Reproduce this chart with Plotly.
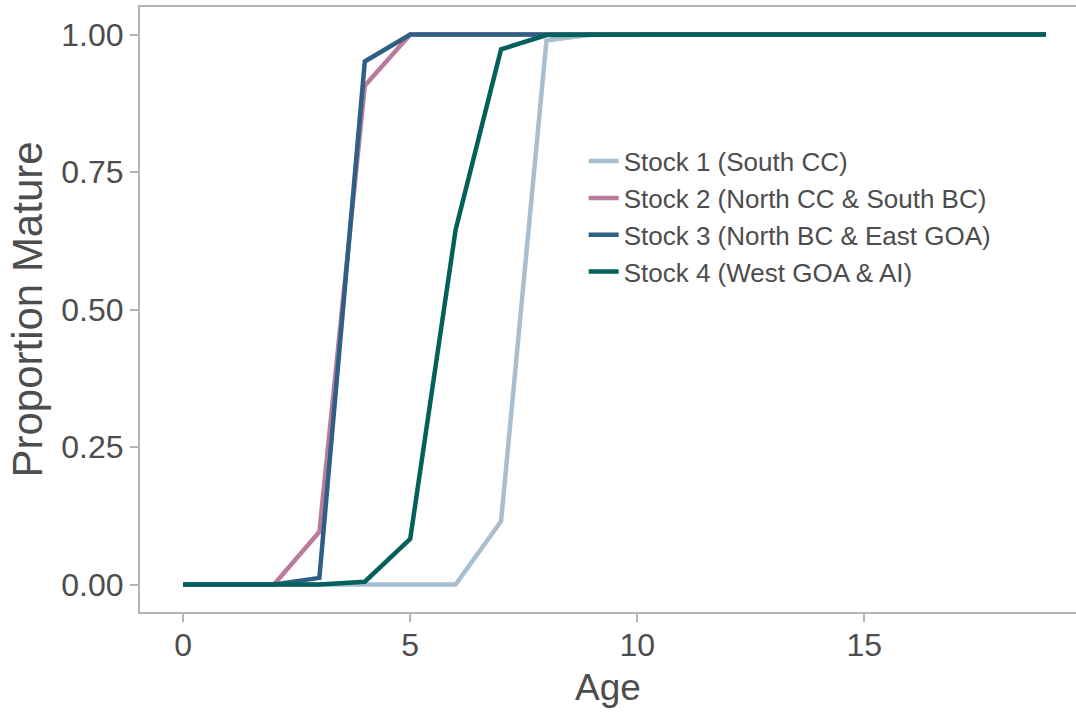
import plotly.graph_objects as go

ages = list(range(0, 20))

stock1 = [0, 0, 0, 0, 0, 0, 0, 0.115, 0.989, 1, 1, 1, 1, 1, 1, 1, 1, 1, 1, 1]
stock2 = [0, 0, 0, 0.096, 0.907, 1, 1, 1, 1, 1, 1, 1, 1, 1, 1, 1, 1, 1, 1, 1]
stock3 = [0, 0, 0, 0.012, 0.951, 1, 1, 1, 1, 1, 1, 1, 1, 1, 1, 1, 1, 1, 1, 1]
stock4 = [0, 0, 0, 0, 0.005, 0.083, 0.645, 0.973, 0.999, 1, 1, 1, 1, 1, 1, 1, 1, 1, 1, 1]

series_names = [
    "Stock 1 (South CC)",
    "Stock 2 (North CC & South BC)",
    "Stock 3 (North BC & East GOA)",
    "Stock 4 (West GOA & AI)",
]
series_values = [stock1, stock2, stock3, stock4]
series_colors = ["#a8bed1", "#bb7c9b", "#2e5f87", "#03605a"]

x_ticks = [0, 5, 10, 15]
x_tick_labels = ["0", "5", "10", "15"]
y_ticks = [0, 0.25, 0.5, 0.75, 1.0]
y_tick_labels = ["0.00", "0.25", "0.50", "0.75", "1.00"]

fig = go.Figure()
for name, vals, col in zip(series_names, series_values, series_colors):
    fig.add_trace(go.Scatter(x=ages, y=vals, mode="lines", name=name,
                             line=dict(color=col, width=4.5)))

text_col = "#4d4d4d"
axis_col = "#b5b5b5"

fig.update_layout(
    width=1076, height=715,
    margin=dict(l=140, r=0, t=7, b=103),
    paper_bgcolor="white", plot_bgcolor="white",
    font=dict(family="Liberation Sans, Arial, sans-serif", color=text_col),
    legend=dict(x=0.474, y=0.784, xanchor="left", yanchor="top",
                font=dict(size=26, color=text_col), bgcolor="rgba(0,0,0,0)",
                tracegroupgap=0),
    xaxis=dict(range=[-0.95, 19.66], tickvals=x_ticks, ticktext=x_tick_labels,
               showgrid=False, zeroline=False,
               showline=True, linecolor=axis_col, linewidth=2, mirror=True,
               ticks="outside", ticklen=8, tickcolor=axis_col, tickwidth=1.5,
               tickfont=dict(size=32, color=text_col),
               ticklabelstandoff=-4,
               automargin=False,
               title=dict(text="Age", font=dict(size=37, color=text_col), standoff=12)),
    yaxis=dict(range=[-0.05, 1.05], tickvals=y_ticks, ticktext=y_tick_labels,
               showgrid=False, zeroline=False,
               showline=True, linecolor=axis_col, linewidth=2, mirror=False,
               ticks="outside", ticklen=8, tickcolor=axis_col, tickwidth=1.5,
               tickfont=dict(size=32, color=text_col),
               automargin=False,
               title=dict(text="Proportion Mature", font=dict(size=42, color=text_col), standoff=6)),
)

fig.write_html("out.html")
